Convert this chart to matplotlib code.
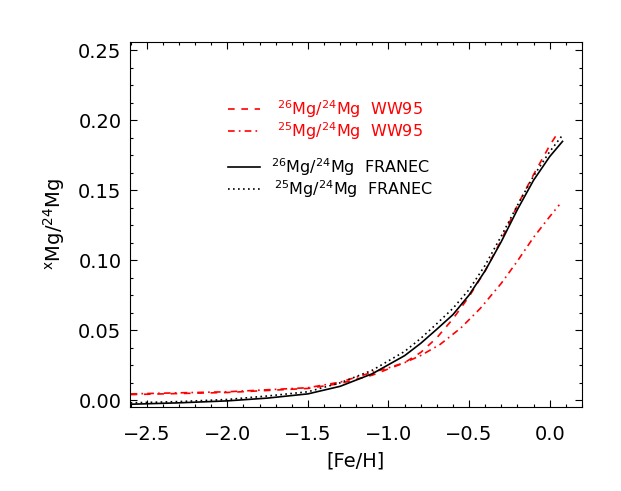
import matplotlib
matplotlib.use("Agg")
import matplotlib.pyplot as plt
from matplotlib.lines import Line2D
from matplotlib.ticker import MultipleLocator, FormatStrFormatter, FuncFormatter

plt.rcParams['font.family'] = 'DejaVu Sans'
plt.rcParams['mathtext.default'] = 'regular'

# 26Mg/24Mg FRANEC (solid)
feh_26f = [-2.6, -2.3, -2.0, -1.75, -1.5, -1.3, -1.1, -0.9, -0.8, -0.7, -0.6, -0.5, -0.4, -0.3, -0.2, -0.1, 0.0, 0.08]
mg_26f = [-0.003, -0.002, -0.0006, 0.0014, 0.0044, 0.0098, 0.0188, 0.0317, 0.0405, 0.0506, 0.061, 0.075, 0.0924, 0.1132, 0.1361, 0.157, 0.1739, 0.1848]

# 25Mg/24Mg FRANEC (dotted)
feh_25f = [-2.6, -2.3, -2.0, -1.75, -1.5, -1.3, -1.1, -0.9, -0.8, -0.7, -0.6, -0.5, -0.4, -0.3, -0.2, -0.1, 0.0, 0.08]
mg_25f = [-0.002, -0.0011, 0.0004, 0.0029, 0.0059, 0.0123, 0.0213, 0.0347, 0.044, 0.0546, 0.0655, 0.0789, 0.0963, 0.1172, 0.1391, 0.160, 0.1774, 0.1893]

# 26Mg/24Mg WW95 (dashed)
feh_26w = [-2.6, -2.0, -1.5, -1.3, -1.1, -0.9, -0.8, -0.7, -0.6, -0.5, -0.4, -0.3, -0.2, -0.1, 0.0, 0.05]
mg_26w = [0.0039, 0.0054, 0.0083, 0.0118, 0.0178, 0.0267, 0.034, 0.0445, 0.058, 0.0739, 0.0924, 0.1142, 0.1391, 0.161, 0.1818, 0.1908]

# 25Mg/24Mg WW95 (dash-dot)
feh_25w = [-2.6, -2.0, -1.5, -1.3, -1.1, -1.0, -0.9, -0.8, -0.68, -0.55, -0.43, -0.3, -0.2, -0.1, 0.0, 0.06]
mg_25w = [0.0044, 0.0059, 0.0088, 0.0128, 0.0198, 0.023, 0.0267, 0.0318, 0.0397, 0.0516, 0.0655, 0.0834, 0.0993, 0.1162, 0.1310, 0.1395]

legend_labels = ['$^{26}$Mg/$^{24}$Mg  WW95', '$^{25}$Mg/$^{24}$Mg  WW95',
                 '$^{26}$Mg/$^{24}$Mg  FRANEC', '$^{25}$Mg/$^{24}$Mg  FRANEC']

RED = '#ff0000'
LW = 1.2
styles = [dict(color=RED, dashes=[4, 4]),
          dict(color=RED, dashes=[4, 2.5, 1, 2.5]),
          dict(color='black'),
          dict(color='black', dashes=[1, 2])]

fig = plt.figure(figsize=(6.21, 4.91), dpi=100, facecolor='white')
ax = fig.add_axes([0.209, 0.171, 0.728, 0.744])

series = [(feh_26w, mg_26w), (feh_25w, mg_25w), (feh_26f, mg_26f), (feh_25f, mg_25f)]
for (xs, ys), st in zip(series, styles):
    ax.plot(xs, ys, lw=LW, **st)

ax.set_xlim(-2.605, 0.2)
ax.set_ylim(-0.005, 0.256)

ax.xaxis.set_major_locator(MultipleLocator(0.5))
ax.xaxis.set_minor_locator(MultipleLocator(0.1))
ax.yaxis.set_major_locator(MultipleLocator(0.05))
ax.yaxis.set_minor_locator(MultipleLocator(0.0125))
ax.yaxis.set_major_formatter(FormatStrFormatter('%.2f'))
ax.xaxis.set_major_formatter(FuncFormatter(lambda v, p: ('%.1f' % v).replace('-', '\u2212')))

ax.tick_params(which='both', direction='in', top=True, right=True, width=0.8, labelsize=14)
ax.tick_params(which='major', length=5)
ax.tick_params(which='minor', length=2.5)
ax.tick_params(axis='x', pad=13)
ax.tick_params(axis='y', pad=6)
for s in ax.spines.values():
    s.set_linewidth(0.8)

ax.set_xlabel('[Fe/H]', fontsize=14, labelpad=5)
ax.set_ylabel('$^{x}$Mg/$^{24}$Mg', fontsize=14, labelpad=8)

# hand-placed legend (axes coordinates)
row_y = [0.816, 0.756, 0.657, 0.597]
text_x = [0.325, 0.325, 0.312, 0.319]
for y, tx, lab, st in zip(row_y, text_x, legend_labels, styles):
    ax.add_line(Line2D([0.217, 0.288], [y, y], transform=ax.transAxes, lw=LW, **st))
    ax.text(tx, y, lab, transform=ax.transAxes, fontsize=11.5, color=st['color'],
            va='center', ha='left')

fig.savefig('out.png', dpi=100, facecolor='white')
